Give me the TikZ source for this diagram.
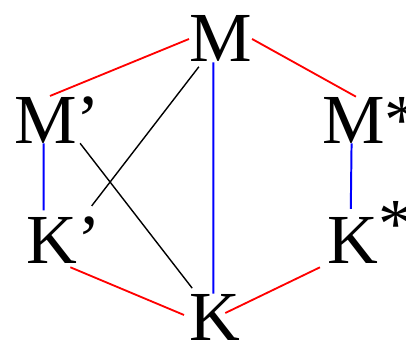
\documentclass[tikz,border=0pt]{standalone}
\usepackage{fontspec}
\setmainfont{Liberation Serif}
\usetikzlibrary{positioning,calc}
\tikzset{
  letter/.style={inner sep=0pt, anchor=base west, font=\fontsize{50}{50}\selectfont},
  redline/.style={draw=red, line width=1.3pt},
  blueline/.style={draw=blue, line width=1.4pt},
  crossline/.style={draw=black, line width=1pt}
}
\begin{document}
\begin{tikzpicture}[x=0.025cm, y=-0.025cm]
\useasboundingbox (0,0) rectangle (406,341);
% ---- letters ----
\node[letter] (M)  at (189,62)  {M};
\node[letter] (Mp) at (14,143)  {M’};
\node[letter] (Ms) at (322,143) {M*};
\node[letter] (Kp) at (26,263)  {K’};
\node[letter] (Ks) at (327,263) {K\raisebox{0.22em}[0pt][0pt]{*}};
\node[letter] (K)  at (189,340) {K};
% ---- red: outer hexagon ----
\draw[redline] (Mp.107) -- (M.west);
\draw[redline] (M.east) -- (Ms.123);
\draw[redline] ($(Kp.south)+(7,4)$) -- ($(K.west)+(-5,-2)$);
\draw[redline] ($(Ks.south west)+(-7,4)$) -- ($(K.east)+(-15,-4)$);
% ---- blue: verticals ----
\draw[blueline, shorten >=4pt] (Mp.240) -- (Kp.130);
\draw[blueline] (M.253) -- (K.93);
\draw[blueline, shorten >=5.5pt] (Ms.230) -- (Ks.130);
% ---- black: the cross ----
\draw[crossline, shorten <=9pt, shorten >=4pt] (Kp.49) -- (M.232);
\draw[crossline, shorten >=5pt] (Mp.314) -- (K.128);
\end{tikzpicture}
\end{document}
